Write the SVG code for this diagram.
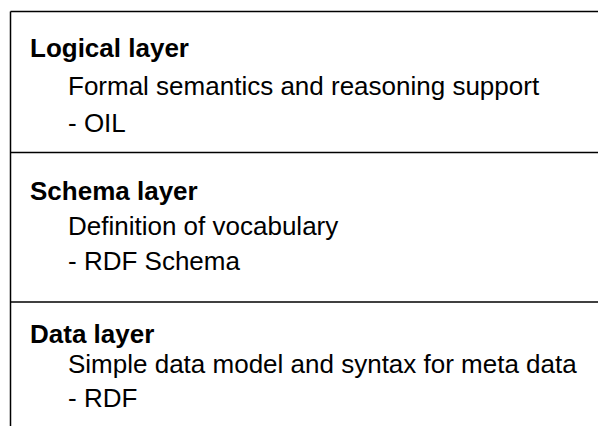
<svg xmlns="http://www.w3.org/2000/svg" width="598" height="426" viewBox="0 0 598 426">
<style>
.ln{stroke:#000;stroke-width:1.5;fill:none}
.h{font-family:"Liberation Sans",Arial,sans-serif;font-size:26px;font-weight:bold;fill:#000}
.t{font-family:"Liberation Sans",Arial,sans-serif;font-size:26px;fill:#000}
</style>
<rect width="598" height="426" fill="#fff"/>
<g id="connectors">
<line class="ln" x1="10.5" y1="11.5" x2="598" y2="11.5"/>
<line class="ln" x1="10.5" y1="11.5" x2="10.5" y2="426"/>
<line class="ln" x1="10.5" y1="152.5" x2="598" y2="152.5"/>
<line class="ln" x1="10.5" y1="302" x2="598" y2="302"/>
</g>
<g id="logical">
<text class="h" x="30" y="57">Logical layer</text>
<text class="t" x="68" y="95">Formal semantics and reasoning support</text>
<text class="t" x="68" y="132">- OIL</text>
</g>
<g id="schema">
<text class="h" x="30" y="200">Schema layer</text>
<text class="t" x="68" y="235">Definition of vocabulary</text>
<text class="t" x="68" y="270">- RDF Schema</text>
</g>
<g id="data">
<text class="h" x="30" y="343">Data layer</text>
<text class="t" x="68" y="373">Simple data model and syntax for meta data</text>
<text class="t" x="68" y="407">- RDF</text>
</g>
</svg>
